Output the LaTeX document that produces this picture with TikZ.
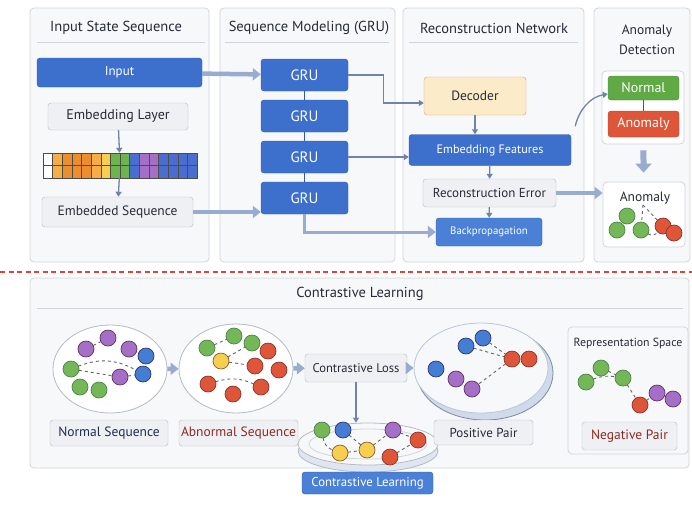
\documentclass[tikz,border=0pt]{standalone}
\usepackage{fontspec}
\setmainfont{PT Sans}
\usepackage{tkz-graph}
\usetikzlibrary{arrows.meta,shapes.geometric}

\definecolor{panelfill}{HTML}{F7F8FA}
\definecolor{panelline}{HTML}{D0D4DB}
\definecolor{textdark}{HTML}{262B36}
\definecolor{bluefill}{HTML}{3D6FCC}
\definecolor{blueline}{HTML}{2F5AA6}
\definecolor{bpfill}{HTML}{4A80D6}
\definecolor{grayfill}{HTML}{EFF0F3}
\definecolor{grayline}{HTML}{B5BAC3}
\definecolor{flowcol}{HTML}{6E84AB}
\definecolor{fatcol}{HTML}{98ACD0}
\definecolor{decfill}{HTML}{FCEBC9}
\definecolor{decline}{HTML}{D9A55E}
\definecolor{normfill}{HTML}{5FAA45}
\definecolor{anomfill}{HTML}{DE5637}
\definecolor{redline}{HTML}{D8463C}
\definecolor{darkred}{HTML}{8A2B22}
\definecolor{navy}{HTML}{1F2C4B}
\definecolor{orangeA}{HTML}{F4AE45}
\definecolor{orangeB}{HTML}{EC8E2C}
\definecolor{yellowA}{HTML}{F6CF4E}
\definecolor{greenA}{HTML}{6DB34E}
\definecolor{blueA}{HTML}{4A6ECF}
\definecolor{purpleA}{HTML}{A56FC8}

\begin{document}
\begin{tikzpicture}[x = 1pt, y = -1pt]
\tikzstyle{panel}=[draw = panelline, fill = panelfill, rounded corners = 4pt, line width = 0.8pt, inner sep = 0pt]
\tikzstyle{sepline}=[draw = panelline, line width = 0.8pt]
\tikzstyle{title}=[text = textdark, font = \fontsize{14.5}{16}\selectfont, align = center]
\tikzstyle{bluebox}=[draw = blueline, fill = bluefill, rounded corners = 3pt, text = white, font = \fontsize{13.5}{15}\selectfont, inner sep = 0pt]
\tikzstyle{graybox}=[draw = grayline, fill = grayfill, rounded corners = 3pt, text = textdark, font = \fontsize{13.5}{15}\selectfont, inner sep = 0pt]
\tikzstyle{flow}=[draw = flowcol, line width = 1.3pt, -{Triangle[length = 5pt, width = 6pt]}]
\tikzstyle{fat}=[draw = fatcol, line width = 4.5pt, -{Triangle[length = 8pt, width = 12pt]}]
\tikzstyle{link}=[draw = blueline, line width = 1pt]
\tikzstyle{cloud}=[shape = ellipse, draw = grayline, fill = white, line width = 0.8pt, inner sep = 0pt]
\tikzstyle{cell}=[draw = black!70, line width = 0.5pt]
\tikzstyle{VertexStyle}=[shape = circle, minimum size = 16pt, inner sep = 0pt, line width = 0.7pt, draw]
\tikzstyle{EdgeStyle}=[dashed, draw = black!60, line width = 0.9pt]
\tikzstyle{gdot}=[fill = greenA!95!white, draw = green!30!black!70]
\tikzstyle{rdot}=[fill = anomfill, draw = red!40!black!80]
\tikzstyle{pdot}=[fill = purpleA, draw = violet!40!black!80]
\tikzstyle{bdot}=[fill = blueA!90!cyan, draw = blue!30!black!80]
\tikzstyle{ydot}=[fill = yellowA, draw = orange!40!black!80]

\useasboundingbox (0,0) rectangle (692,504);
\fill[white] (0,0) rectangle (692,504);

\node[panel, minimum width = 179pt, minimum height = 254pt] (inpanel) at (119.5,135) {};
\node[panel, minimum width = 175pt, minimum height = 254pt] (grupanel) at (307.5,135) {};
\node[panel, minimum width = 181pt, minimum height = 254pt] (recpanel) at (493.5,135) {};
\node[panel, minimum width = 96pt, minimum height = 254pt] (detpanel) at (642,135) {};
\node[panel, minimum width = 659pt, minimum height = 190pt] (clpanel) at (359.5,373) {};
\draw[sepline] (37,42) -- (205,42);
\draw[sepline] (225,42) -- (389,42);
\draw[sepline] (409,42) -- (578,42);
\draw[sepline] (37,308) -- (683,308);
\draw[draw = redline, line width = 1.2pt, dash pattern = on 5pt off 3.5pt] (0,272) -- (692,272);

\node[title] (intitle) at (116,28) {Input State Sequence};
\node[title] (grutitle) at (309,28) {Sequence Modeling (GRU)};
\node[title] (rectitle) at (494,28) {Reconstruction Network};
\node[title, font = \fontsize{13.5}{20.5}\selectfont] (dettitle) at (647,40) {Anomaly\\Detection};
\node[title] (cltitle) at (360,294) {Contrastive Learning};

\node[bluebox, font = \fontsize{13}{15}\selectfont, minimum width = 165pt, minimum height = 29pt] (input) at (119.5,72.5) {Input};
\node[graybox, font = \fontsize{14}{16}\selectfont, minimum width = 140pt, minimum height = 27pt] (emblayer) at (118,116.5) {Embedding Layer};
\node[minimum width = 154pt, minimum height = 25pt, inner sep = 0pt] (strip) at (120,165.5) {};
\foreach \c [count = \i from 0] in {white,orangeA,orangeB,orangeB,orangeB,orangeA,yellowA,greenA,greenA,blueA,purpleA,purpleA,blueA,blueA,blueA,blueA}
{
\draw[cell, fill = \c] (43+\i*9.625,153) rectangle ++(9.625,12.5);
\draw[cell, fill = \c] (43+\i*9.625,165.5) rectangle ++(9.625,12.5);
}
\node[graybox, minimum width = 151pt, minimum height = 30pt] (embseq) at (117.5,212) {Embedded Sequence};

\tikzstyle{grubox}=[bluebox, font = \fontsize{15}{17}\selectfont, minimum width = 87pt, minimum height = 32pt]
\node[grubox] (gru1) at (304.5,75) {GRU};
\node[grubox] (gru2) at (304.5,116) {GRU};
\node[grubox] (gru3) at (304.5,157) {GRU};
\node[grubox] (gru4) at (304.5,198) {GRU};

\node[graybox, draw = decline, fill = decfill, minimum width = 102pt, minimum height = 38pt] (decoder) at (475,96) {Decoder};
\node[bluebox, font = \fontsize{12.2}{14}\selectfont, minimum width = 162pt, minimum height = 31pt] (embfeat) at (490,150) {Embedding Features};
\node[graybox, font = \fontsize{13}{15}\selectfont, minimum width = 133pt, minimum height = 28pt] (recerr) at (489.5,193) {Reconstruction Error};
\node[bluebox, fill = bpfill, font = \fontsize{10.8}{12}\selectfont, minimum width = 106pt, minimum height = 28pt] (backprop) at (489,232) {Backpropagation};

\node[panel, fill = white, minimum width = 82pt, minimum height = 73pt] (grp) at (643,107.5) {};
\node[bluebox, draw = normfill!80!black, fill = normfill, font = \fontsize{14}{16}\selectfont, minimum width = 71pt, minimum height = 24pt] (normal) at (643.5,88) {Normal};
\node[bluebox, draw = anomfill!80!black, fill = anomfill, font = \fontsize{14}{16}\selectfont, minimum width = 71pt, minimum height = 26pt] (anom) at (643.5,124) {Anomaly};
\node[panel, fill = white, minimum width = 82pt, minimum height = 65pt] (anomres) at (644,214.5) {};
\node[title, font = \fontsize{13.5}{15}\selectfont] (anomtext) at (645,198) {Anomaly};

\draw[link] (gru1) -- (gru2);
\draw[link] (gru2) -- (gru3);
\draw[link] (gru3) -- (gru4);
\draw[link] (normal) -- (anom);
\draw[fat] (input) -- (gru1);
\draw[fat] (embseq) -- (embseq -| gru4.west);
\draw[flow] (emblayer) -- (strip);
\draw[flow] (strip) -- (embseq);
\draw[flow] (gru1.east) -- ++(35,0) |- ([yshift = -7pt]decoder.west);
\draw[flow] (gru3.east) -- (gru3.east -| embfeat.west);
\draw[fat, line width = 3pt] (gru4.south) |- (backprop.west);
\draw[flow] (decoder) -- (decoder |- embfeat.north);
\draw[flow] (embfeat) -- (recerr);
\draw[flow] (recerr) -- (backprop);
\draw[fat] (recerr.east) -- (recerr.east -| anomres.west);
\draw[flow] ([xshift = 4pt, yshift = 8pt]embfeat.north east) .. controls (579,110) and (590,97) .. ([yshift = -6pt]normal.west);
\draw[fat, line width = 6pt, -{Triangle[length = 9pt, width = 16pt]}, shorten < = 6pt, shorten > = 9pt] (grp) -- (anomres);

\Vertex[x = 627, y = 216, L = \tiny {}, style = {gdot, minimum size = 12pt}]{d1}
\Vertex[x = 617, y = 230, L = \tiny {}, style = {gdot, minimum size = 12pt}]{d2}
\Vertex[x = 641, y = 230, L = \tiny {}, style = {gdot, minimum size = 12pt}]{d3}
\Vertex[x = 663, y = 226, L = \tiny {}, style = {rdot, minimum size = 12pt}]{d4}
\Vertex[x = 674, y = 233, L = \tiny {}, style = {rdot, minimum size = 12pt}]{d5}
\coordinate (apex) at (643,205);
\Edge[style = {line width = 0.7pt}](apex)(d3)
\Edge[style = {line width = 0.7pt}](apex)(d4)
\Edge[style = {line width = 0.7pt, bend right = 40}](d3)(d4)

\node[cloud, minimum width = 114pt, minimum height = 88pt] (normalset) at (110,369) {};
\node[cloud, minimum width = 114pt, minimum height = 89pt] (abnormalset) at (236,368.5) {};
\node[cloud, draw = fatcol!80!black, fill = fatcol!45, minimum width = 136pt, minimum height = 94pt] (posshadow) at (485,373) {};
\node[cloud, draw = fatcol!70, fill = panelfill, minimum width = 134pt, minimum height = 90pt] (pospair) at (481,368) {};
\node[cloud, draw = grayline, fill = fatcol!30, minimum width = 140pt, minimum height = 42pt] (discbase) at (368,451) {};
\node[cloud, draw = grayline, fill = panelfill, minimum width = 140pt, minimum height = 42pt] (disc) at (368,444) {};
\node[cloud, draw = panelline, fill = none, minimum width = 118pt, minimum height = 30pt] (discrim) at (368,444) {};
\node[graybox, font = \fontsize{12.6}{14}\selectfont, minimum width = 102pt, minimum height = 28pt] (closs) at (356,368) {Contrastive Loss};
\node[graybox, text = navy, minimum width = 118pt, minimum height = 26pt] (normlabel) at (109,433) {Normal Sequence};
\node[graybox, text = darkred, minimum width = 119pt, minimum height = 26pt] (abnlabel) at (238.5,433) {Abnormal Sequence};
\node[graybox, font = \fontsize{13}{15}\selectfont, minimum width = 99pt, minimum height = 25pt] (poslabel) at (483.5,432.5) {Positive Pair};
\node[bluebox, fill = bpfill, font = \fontsize{12.8}{14}\selectfont, minimum width = 131pt, minimum height = 22pt] (cllabel) at (367.5,483) {Contrastive Learning};
\node[panel, minimum width = 120pt, minimum height = 127pt] (repbox) at (628,390.5) {};
\node[title, font = \fontsize{11.8}{13}\selectfont] (reptitle) at (628,343) {Representation Space};
\node[graybox, text = darkred, minimum width = 95pt, minimum height = 28pt] (neglabel) at (629.5,436) {Negative Pair};

\draw[fat] (normalset) -- (abnormalset);
\draw[fat] (abnormalset) -- (closs);
\draw[fat] (closs) -- (pospair);
\draw[flow] (closs.south) -- (closs.south |- disc.north);

\Vertex[x = 86, y = 349, L = \tiny {}, style = {pdot}]{n1}
\Vertex[x = 108, y = 338, L = \tiny {}, style = {pdot}]{n2}
\Vertex[x = 129, y = 349, L = \tiny {}, style = {pdot, minimum size = 15pt}]{n3}
\Vertex[x = 146, y = 356, L = \tiny {}, style = {bdot, minimum size = 14pt}]{n4}
\Vertex[x = 71, y = 369, L = \tiny {}, style = {gdot}]{n5}
\Vertex[x = 143, y = 374, L = \tiny {}, style = {bdot}]{n6}
\Vertex[x = 120, y = 377, L = \tiny {}, style = {pdot}]{n7}
\Vertex[x = 80, y = 387, L = \tiny {}, style = {gdot}]{n8}
\Vertex[x = 99, y = 390, L = \tiny {}, style = {gdot}]{n9}
\Edge(n1)(n2)
\Edge[style = {bend left = 25}](n5)(n6)
\Edge(n5)(n7)
\Edge(n7)(n6)

\Vertex[x = 207, y = 348, L = \tiny {}, style = {gdot}]{a1}
\Vertex[x = 234, y = 336, L = \tiny {}, style = {gdot}]{a2}
\Vertex[x = 252, y = 343, L = \tiny {}, style = {gdot, minimum size = 12pt}]{a3}
\Vertex[x = 268, y = 351, L = \tiny {}, style = {rdot, minimum size = 14pt}]{a4}
\Vertex[x = 221, y = 361, L = \tiny {}, style = {ydot}]{a5}
\Vertex[x = 255, y = 366, L = \tiny {}, style = {rdot}]{a6}
\Vertex[x = 279, y = 370, L = \tiny {}, style = {rdot}]{a7}
\Vertex[x = 208, y = 384, L = \tiny {}, style = {rdot}]{a8}
\Vertex[x = 233, y = 394, L = \tiny {}, style = {rdot}]{a9}
\Vertex[x = 261, y = 387, L = \tiny {}, style = {rdot}]{a10}
\Edge(a1)(a2)
\Edge(a5)(a3)
\Edge(a5)(a6)
\Edge[style = {bend left = 20}](a8)(a10)

\Vertex[x = 466, y = 346, L = \tiny {}, style = {bdot}]{p1}
\Vertex[x = 483, y = 338, L = \tiny {}, style = {bdot}]{p2}
\Vertex[x = 512, y = 359, L = \tiny {}, style = {rdot}]{p3}
\Vertex[x = 529, y = 359, L = \tiny {}, style = {rdot}]{p4}
\Vertex[x = 436, y = 369, L = \tiny {}, style = {bdot}]{p5}
\Vertex[x = 456, y = 379, L = \tiny {}, style = {pdot}]{p6}
\Vertex[x = 472, y = 389, L = \tiny {}, style = {pdot}]{p7}
\Edge(p2)(p3)
\Edge(p1)(p3)
\Edge(p3)(p7)

\Vertex[x = 322, y = 430, L = \tiny {}, style = {gdot}]{c1}
\Vertex[x = 343, y = 430, L = \tiny {}, style = {bdot}]{c2}
\Vertex[x = 393, y = 430, L = \tiny {}, style = {pdot}]{c3}
\Vertex[x = 418, y = 440, L = \tiny {}, style = {rdot}]{c4}
\Vertex[x = 340, y = 453, L = \tiny {}, style = {ydot}]{c5}
\Vertex[x = 367, y = 450, L = \tiny {}, style = {ydot}]{c6}
\Vertex[x = 390, y = 457, L = \tiny {}, style = {rdot}]{c7}
\Edge[style = {bend right = 30}](c1)(c5)
\Edge(c2)(c6)
\Edge(c5)(c6)
\Edge(c6)(c3)
\Edge(c3)(c4)
\Edge(c7)(c4)

\Vertex[x = 601, y = 368, L = \tiny {}, style = {gdot, minimum size = 15pt}]{r1}
\Vertex[x = 586, y = 382, L = \tiny {}, style = {gdot, minimum size = 15pt}]{r2}
\Vertex[x = 623, y = 378, L = \tiny {}, style = {gdot, minimum size = 15pt}]{r3}
\Vertex[x = 640, y = 405, L = \tiny {}, style = {rdot, minimum size = 14pt}]{r4}
\Vertex[x = 657, y = 393, L = \tiny {}, style = {pdot, minimum size = 15pt}]{r5}
\Vertex[x = 673, y = 399, L = \tiny {}, style = {pdot, minimum size = 15pt}]{r6}
\Edge[style = {bend left = 15}](r2)(r3)
\Edge(r1)(r3)
\Edge(r3)(r4)
\Edge(r4)(r5)
\end{tikzpicture}
\end{document}
